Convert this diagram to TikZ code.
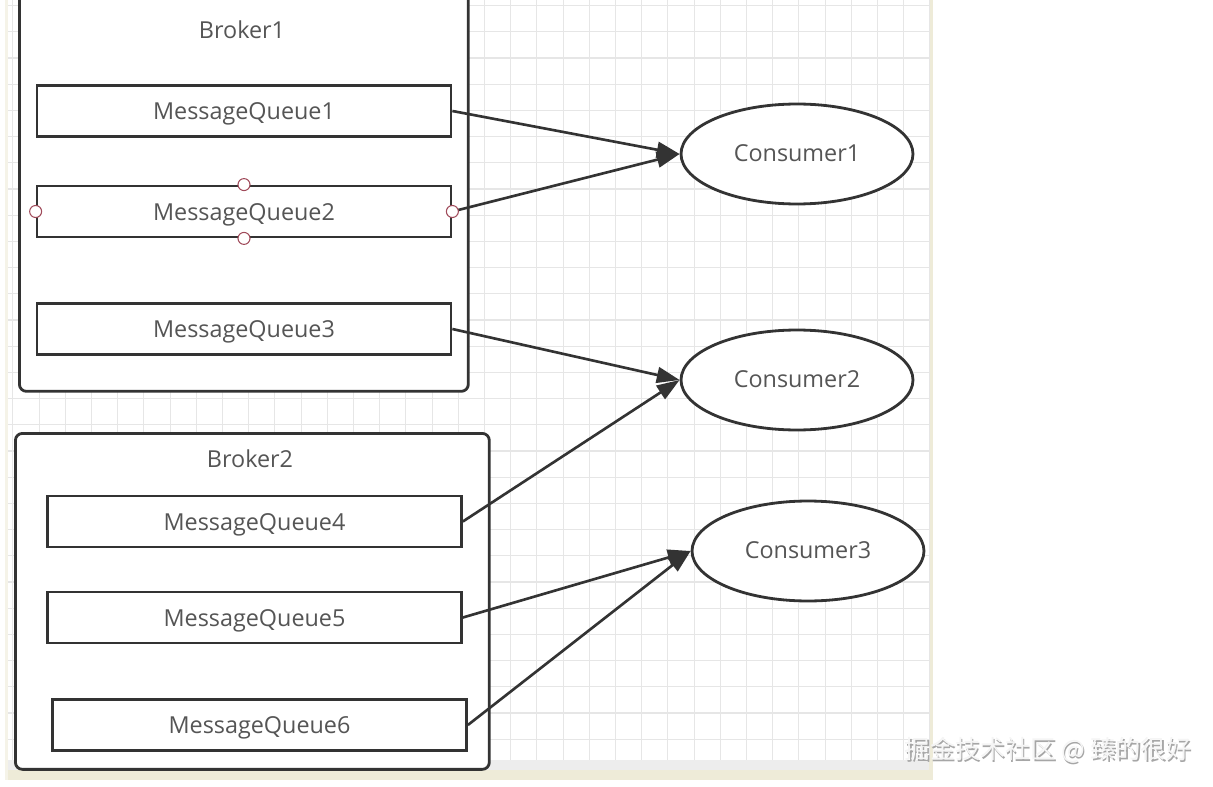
\documentclass[tikz,border=0pt]{standalone}
\usepackage{fontspec}
\setmainfont{Open Sans}
\newfontfamily\cjk{Noto Sans CJK SC}
\usetikzlibrary{arrows.meta,shapes.geometric}
\definecolor{inkc}{HTML}{333333}
\definecolor{txtc}{HTML}{555555}
\definecolor{gridc}{HTML}{E6E6E6}
\definecolor{handc}{HTML}{A04A5A}
\definecolor{paperc}{HTML}{EEEBD8}
\definecolor{bandc}{HTML}{EDEDED}

\begin{document}
\begin{tikzpicture}[x=0.02cm, y=-0.02cm,
	font=\fontsize{13.3}{16}\selectfont, text=txtc,
	broker/.style={draw=inkc, line width=1.6pt, rounded corners=4pt, fill=white, anchor=north west},
	queue/.style={draw=inkc, line width=1.6pt, fill=white, minimum width=8.28cm, minimum height=1.02cm, inner sep=0pt, text height=1.0em, text depth=0pt},
	consumer/.style={ellipse, draw=inkc, line width=1.6pt, fill=white, minimum width=4.64cm, minimum height=2cm, inner sep=0pt, text height=0.85em, text depth=0pt},
	handle/.style={circle, draw=handc, fill=white, line width=0.6pt, minimum size=0.24cm, inner sep=0pt},
	feed/.style={draw=inkc, line width=1.5pt, -{Triangle[length=13pt, width=9pt]}}]
	\useasboundingbox (0,0) rectangle (1213,787);
	\clip (0,0) rectangle (1213,787);
	% grid paper
	\fill[bandc] (8,760) rectangle (932,770);
	\fill[paperc] (8,770) rectangle (932,780);
	\fill[paperc] (929,0) rectangle (933,780);
	\fill[paperc!60] (5,0) rectangle (8,780);
	\foreach \i in {0,...,35} {
		\draw[gridc, line width=0.6pt] ({12.9+26.2*\i},0) -- ({12.9+26.2*\i},760);
	}
	\foreach \j in {0,...,28} {
		\draw[gridc, line width=0.6pt] (8,{5.6+26.2*\j}) -- (929,{5.6+26.2*\j});
	}
	% brokers
	\node[broker, minimum width=8.98cm, minimum height=8.2cm] (broker1) at (18,-20) {};
	\node (b1label) at (242,30) {Broker1};
	\node[broker, minimum width=9.48cm, minimum height=6.72cm] (broker2) at (14,432) {};
	\node (b2label) at (250,459) {Broker2};
	% queues
	\node[queue] (mq1) at (244,111) {MessageQueue1};
	\node[queue] (mq2) at (244,211.5) {MessageQueue2};
	\node[queue] (mq3) at (244,329) {MessageQueue3};
	\node[queue] (mq4) at (254.5,521.5) {MessageQueue4};
	\node[queue] (mq5) at (254.5,617.5) {MessageQueue5};
	\node[queue] (mq6) at (259.5,725) {MessageQueue6};
	% consumers
	\node[consumer] (c1) at (797,154) {Consumer1};
	\node[consumer] (c2) at (797,380) {Consumer2};
	\node[consumer] (c3) at (808,551) {Consumer3};
	% links
	\draw[feed] (mq1.east) -- (c1.west);
	\draw[feed] (mq2.east) -- (c1.west);
	\draw[feed] (mq3.east) -- (c2.west);
	\draw[feed] (mq4.east) -- (c2.west);
	\draw[feed] (mq5.east) -- (c3.west);
	\draw[feed] (mq6.east) -- (c3.west);
	% selection handles
	\foreach \side in {north,south,east,west} {
		\node[handle] (h-\side) at (mq2.\side) {};
	}
	% watermark
	\node[text=gray!70, font=\cjk\fontsize{14.3}{17}\selectfont] (wmshade) at (1049.5,751.5) {掘金技术社区 @ 臻的很好};
	\node[text=gray!8, font=\cjk\fontsize{14.3}{17}\selectfont] (wm) at (1048,750) {掘金技术社区 @ 臻的很好};
\end{tikzpicture}
\end{document}
